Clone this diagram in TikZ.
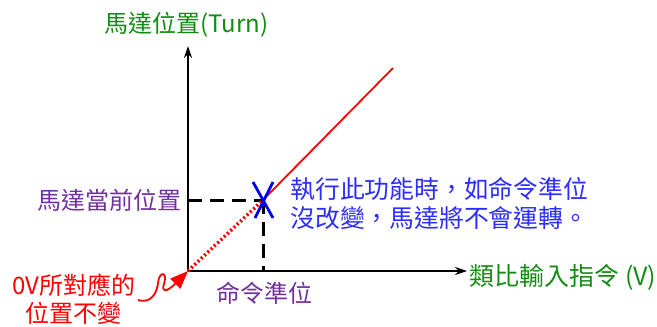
\documentclass[tikz,border=0pt]{standalone}
\usepackage{fontspec}
\setmainfont{Noto Sans CJK TC}
\usetikzlibrary{arrows.meta, calc}
\definecolor{axisgreen}{RGB}{20, 140, 20}
\definecolor{levelpurple}{RGB}{112, 48, 160}
\definecolor{noteblue}{RGB}{45, 45, 250}
\definecolor{markblue}{RGB}{0, 0, 235}

\begin{document}
\begin{tikzpicture}[x=1pt, y=-1pt, font=\fontsize{24}{29}\selectfont,
                    >={Stealth[length=12pt, width=8pt]}]
  \useasboundingbox (0,0) rectangle (657,327);
  \coordinate (O) at (188,271);
  \coordinate (ytip) at (188,46);
  \coordinate (xtip) at (467,271);
  \coordinate (P) at (263,200);
  \coordinate (ylevel) at (188,200);
  \coordinate (xlevel) at (263,271);
  \coordinate (lineend) at (393,68);
  \coordinate (curlstart) at (138,300);
  % axes
  \draw[->, line width=1.5pt] (O) -- (ytip);
  \draw[->, line width=1.5pt] (O) -- (xtip);
  % current level
  \draw[line width=3pt, dash pattern=on 14pt off 8pt] (ylevel) -- (P);
  \draw[line width=3pt, dash pattern=on 14pt off 8pt] (P) -- (xlevel);
  \draw[red, line width=1.8pt] (P) -- (lineend);
  \draw[red, line width=3.5pt, dash pattern=on 2pt off 2.5pt] (O) -- (P);
  \draw[markblue, line width=2.8pt] ($(P)+(-10,-18)$) -- ($(P)+(10,18)$);
  \draw[markblue, line width=2.8pt] ($(P)+(10,-18)$) -- ($(P)+(-8,18)$);
  % labels
  \node[text=axisgreen, anchor=west] (ylabel) at (101,25) {馬達位置(Turn)};
  \node[text=axisgreen, anchor=west, font=\fontsize{25}{29}\selectfont]
        (xlabel) at (466,277) {類比輸入指令 (V)};
  \node[text=levelpurple, anchor=east] (poslabel) at (185,200) {馬達當前位置};
  \node[text=levelpurple] (cmdlabel) at (264,293) {命令準位};
  \node[text=noteblue, anchor=west, align=left, font=\fontsize{24.8}{29}\selectfont]
        (note) at (287,203) {執行此功能時，如命令準位\\沒改變，馬達將不會運轉。};
  \node[text=red, align=center, font=\fontsize{24}{28}\selectfont]
        (zerolabel) at (74,299) {0V所對應的\\位置不變};
  \draw[red, line width=1.8pt, -{Triangle[length=18pt, width=14pt]}]
        (curlstart) .. controls (152,304) and (157,292) .. (158,283)
        .. controls (159,271) and (168,271) .. (164,284)
        .. controls (161,292) and (166,293) .. (O);
\end{tikzpicture}
\end{document}
